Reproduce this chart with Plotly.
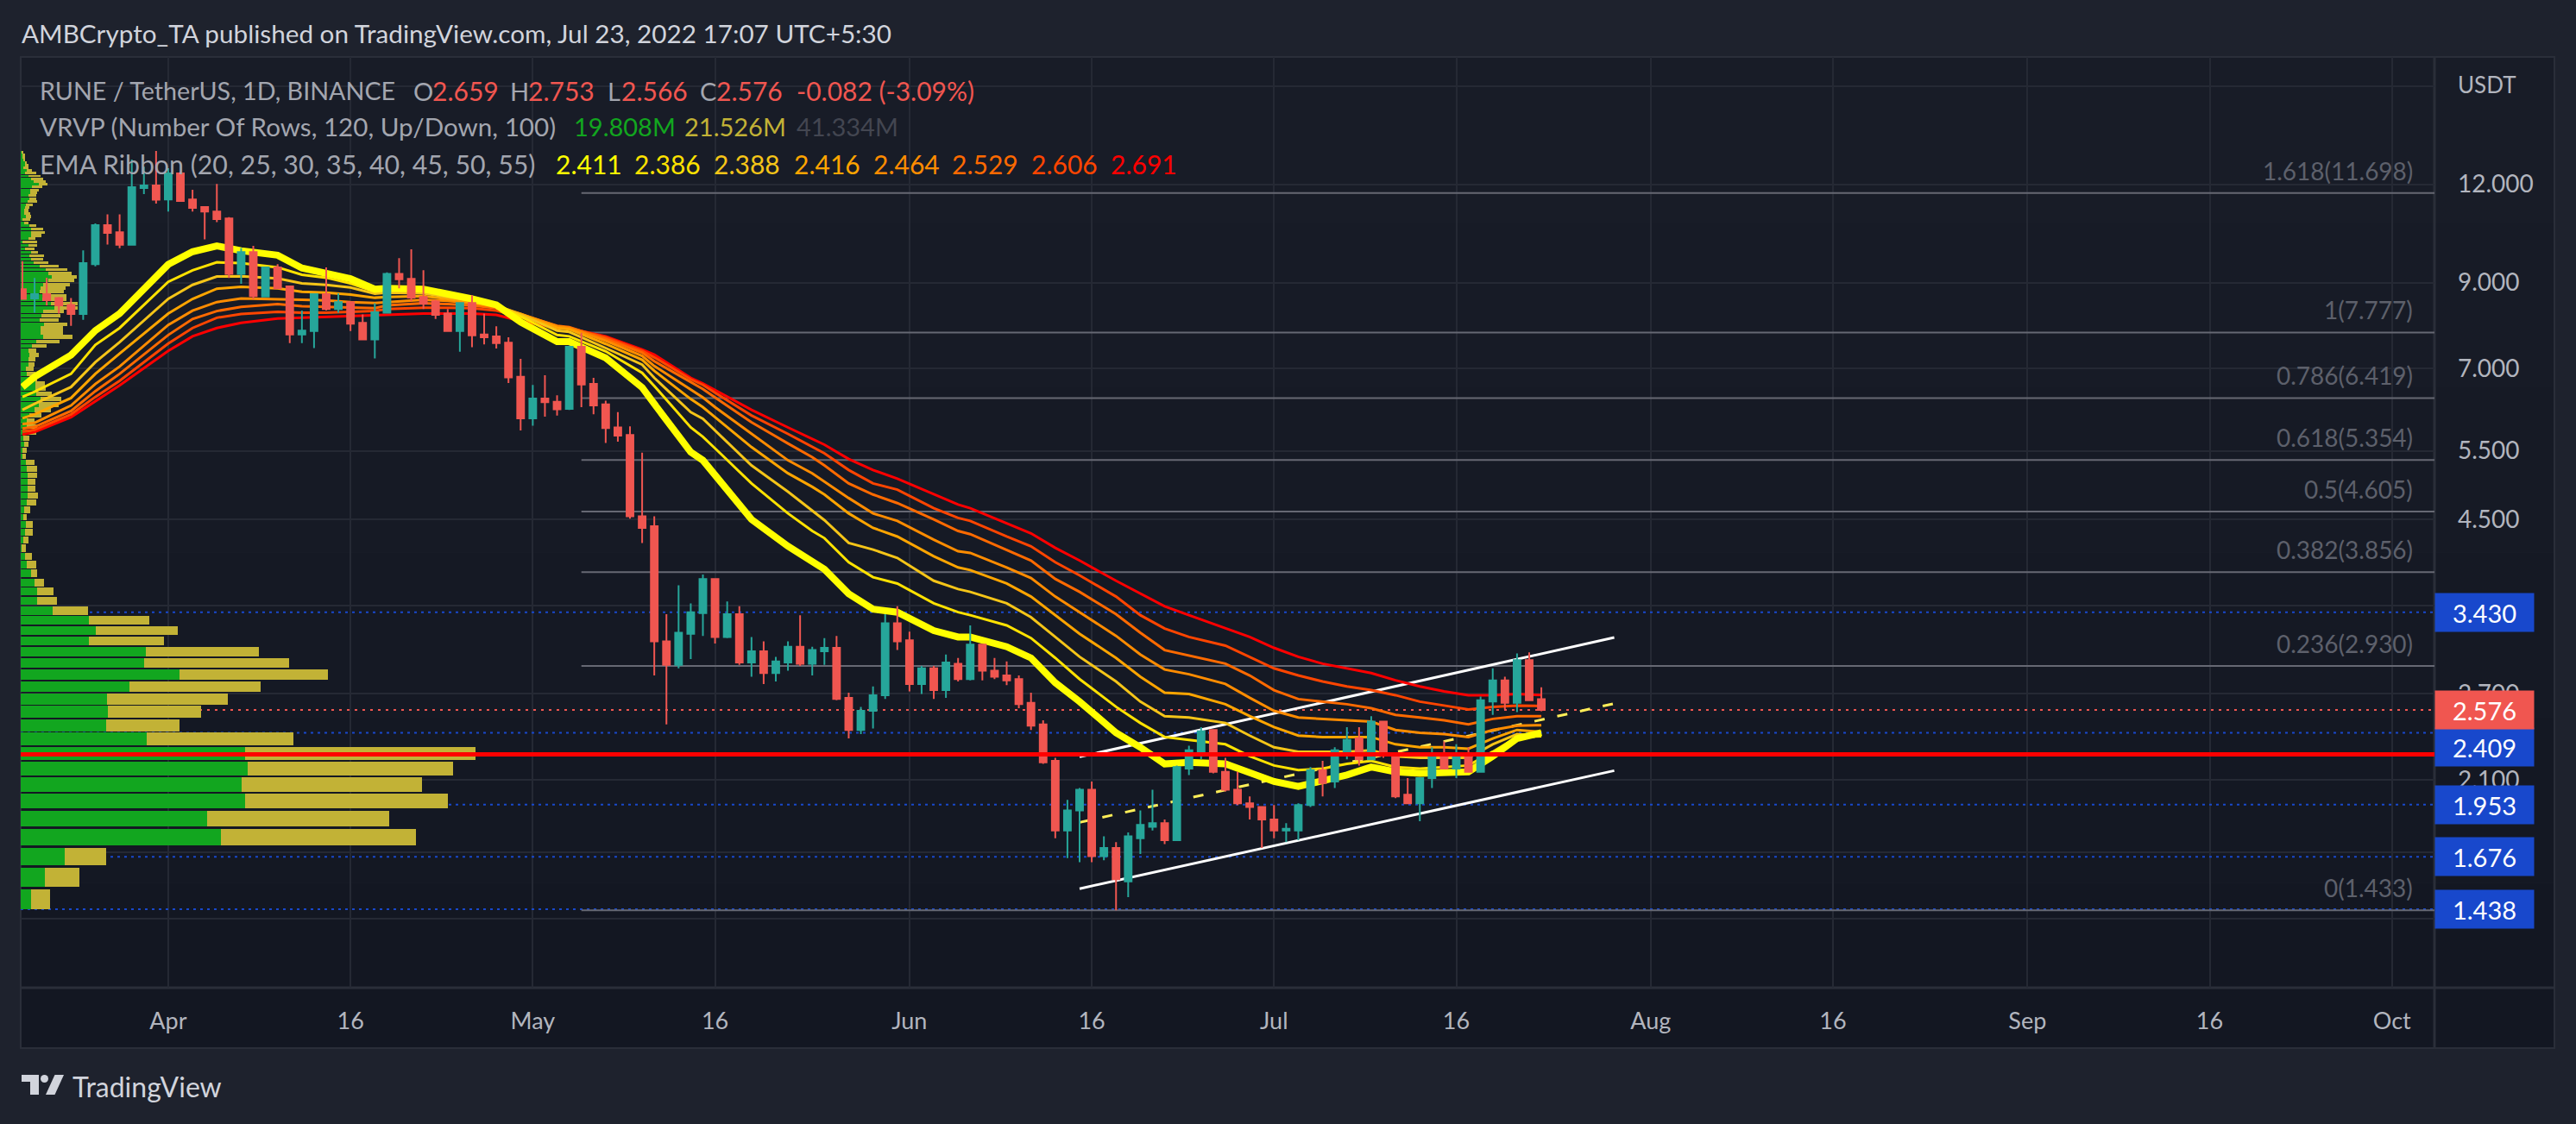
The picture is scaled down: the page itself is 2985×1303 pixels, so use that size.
import numpy as np
import pandas as pd
import plotly.graph_objects as go

FIRST_DAY = "2022-03-20"
opens = [8.83,8.59,8.70,8.60,8.43,8.21,9.50,10.65,10.43,10.05,11.87,11.96,
 11.48,12.39,11.48,11.23,11.08,10.86,9.23,9.84,8.64,9.41,
 8.90,7.73,7.81,8.70,8.33,8.50,8.00,7.62,8.24,9.23,
 9.10,8.63,8.52,8.22,7.81,8.48,7.73,7.69,7.55,6.83,
 6.05,6.41,6.35,6.22,7.46,6.69,6.30,5.89,5.76,4.54,
 4.41,3.15,2.94,3.22,3.42,3.78,3.19,3.41,2.96,3.06,
 2.87,2.96,3.10,2.95,3.06,3.09,2.67,2.43,2.57,2.69,
 3.32,3.16,2.78,2.91,2.73,2.95,2.82,3.12,2.89,2.85,
 2.82,2.63,2.47,2.22,1.81,1.92,2.04,1.68,1.72,1.56,
 1.77,1.83,1.85,1.76,2.17,2.28,2.43,2.15,2.04,1.96,
 1.94,1.87,1.81,1.81,1.95,2.16,2.09,2.28,2.37,2.23,
 2.49,2.27,2.01,1.96,2.11,2.25,2.17,2.27,2.15,2.64,
 2.81,2.63,2.98,2.659]
highs = [9.58,9.12,9.13,8.63,8.60,9.89,10.70,10.99,10.99,12.90,12.63,13.23,
 12.58,12.44,11.81,11.23,12.01,10.90,9.96,10.02,9.43,9.50,
 8.92,8.29,8.70,9.41,8.72,8.52,8.20,8.47,9.27,9.67,
 9.92,9.33,8.56,8.33,8.50,8.67,8.22,7.92,7.67,7.20,
 6.67,6.86,6.47,7.48,7.77,6.81,6.37,6.16,5.91,5.47,
 4.54,3.41,3.71,3.52,3.83,3.78,3.54,3.49,3.19,3.15,
 3.01,3.15,3.40,3.10,3.18,3.20,2.71,2.60,2.76,3.41,
 3.49,3.24,2.93,2.93,3.03,3.00,3.30,3.12,3.00,2.97,
 2.85,2.71,2.50,2.24,1.98,2.05,2.09,1.78,1.75,1.80,
 1.92,2.04,1.87,2.19,2.32,2.45,2.43,2.24,2.15,2.00,
 1.94,1.95,1.85,1.96,2.18,2.22,2.31,2.45,2.45,2.53,
 2.49,2.27,2.11,2.11,2.31,2.35,2.33,2.31,2.68,2.91,
 2.84,3.04,3.05,2.753]
lows = [8.58,8.24,8.42,8.22,7.93,8.07,9.44,10.06,9.95,10.05,11.66,11.34,
 11.08,11.42,11.08,10.21,10.74,9.12,8.97,8.58,8.63,8.83,
 7.54,7.54,7.43,8.29,8.24,7.81,7.62,7.21,8.24,8.85,
 8.52,8.33,8.09,7.81,7.35,7.45,7.51,7.42,6.71,5.84,
 5.92,6.08,6.10,6.20,6.25,6.12,5.63,5.65,4.51,4.20,
 2.85,2.47,2.91,2.99,3.20,3.13,3.18,2.94,2.84,2.78,
 2.80,2.89,2.93,2.85,2.94,2.65,2.37,2.40,2.44,2.66,
 3.07,2.72,2.70,2.66,2.67,2.80,2.81,2.81,2.82,2.77,
 2.59,2.43,2.20,1.77,1.67,1.65,1.65,1.66,1.433,1.49,
 1.69,1.81,1.74,1.76,2.13,2.23,2.14,2.03,1.95,1.87,
 1.72,1.77,1.75,1.76,1.94,2.00,2.05,2.23,2.19,2.23,
 2.24,1.99,1.96,1.86,2.05,2.17,2.11,2.15,2.15,2.54,
 2.58,2.56,2.65,2.566]
closes = [8.58,8.70,8.55,8.42,8.21,9.53,10.65,10.41,10.05,11.90,11.96,11.47,
 12.39,11.43,11.20,11.08,10.84,9.23,9.84,8.65,9.41,8.85,
 7.73,7.82,8.70,8.33,8.50,7.98,7.62,8.25,9.23,9.09,
 8.61,8.46,8.19,7.81,8.48,7.71,7.67,7.54,6.82,6.05,
 6.41,6.34,6.21,7.46,6.68,6.28,5.88,5.75,4.54,4.39,
 3.15,2.94,3.23,3.43,3.78,3.19,3.41,2.96,3.06,2.87,
 2.97,3.10,2.95,3.07,3.09,2.66,2.43,2.57,2.69,3.32,
 3.15,2.78,2.91,2.73,2.96,2.82,3.12,2.89,2.84,2.81,
 2.62,2.46,2.21,1.81,1.92,2.04,1.68,1.72,1.57,1.78,
 1.84,1.85,1.76,2.18,2.29,2.42,2.15,2.04,1.96,1.94,
 1.87,1.81,1.82,1.95,2.16,2.08,2.29,2.36,2.23,2.49,
 2.27,2.00,1.96,2.11,2.25,2.17,2.27,2.15,2.65,2.81,
 2.63,2.98,2.65,2.576]

ribbon_days = [-12,-11,-8,-6,-4,0,2,4,6,9,11,13,15,17,18,21,23,25,27,29,32,33,
 36,39,40,43,44,45,48,51,53,54,56,58,60,63,65,66,69,71,73,
 75,78,80,82,84,87,89,91,93,95,97,99,101,103,105,107,109,111,113]
ema20 = [6.63,6.83,7.28,7.82,8.22,9.49,9.85,10.02,9.88,9.75,9.39,9.25,9.10,8.83,8.85,8.83,8.71,8.58,8.43,8.02,7.57,7.57,
 7.22,6.62,6.31,5.48,5.35,5.12,4.50,4.16,3.97,3.89,3.62,3.46,3.43,3.25,3.19,3.19,3.10,3.00,2.79,
 2.64,2.41,2.31,2.20,2.21,2.20,2.15,2.09,2.06,2.09,2.13,2.18,2.15,2.14,2.15,2.15,2.25,2.37,2.411]
ema25 = [6.44,6.54,6.89,7.50,7.88,9.02,9.33,9.55,9.53,9.41,9.21,9.13,8.98,8.76,8.81,8.78,8.69,8.56,8.42,8.15,7.72,7.69,
 7.36,6.91,6.65,5.89,5.73,5.54,5.00,4.58,4.35,4.26,3.97,3.80,3.73,3.52,3.43,3.40,3.30,3.18,3.00,
 2.82,2.60,2.48,2.38,2.36,2.33,2.25,2.19,2.16,2.17,2.20,2.22,2.18,2.17,2.18,2.19,2.28,2.38,2.386]
ema30 = [6.20,6.31,6.63,7.13,7.56,8.58,8.94,9.16,9.17,9.11,8.98,8.94,8.87,8.71,8.74,8.72,8.63,8.54,8.42,8.19,7.82,7.79,
 7.43,7.08,6.81,6.16,6.04,5.84,5.27,4.88,4.61,4.49,4.20,4.12,4.02,3.76,3.67,3.64,3.52,3.38,3.19,
 3.01,2.80,2.64,2.53,2.52,2.48,2.39,2.31,2.28,2.28,2.28,2.29,2.25,2.24,2.24,2.24,2.33,2.40,2.388]
ema35 = [6.05,6.12,6.42,6.89,7.31,8.22,8.58,8.84,8.89,8.85,8.76,8.74,8.69,8.61,8.63,8.65,8.58,8.50,8.41,8.21,7.88,7.85,
 7.52,7.18,6.95,6.40,6.25,6.07,5.56,5.15,4.95,4.84,4.58,4.39,4.28,4.04,3.91,3.88,3.73,3.59,3.40,
 3.22,3.00,2.84,2.71,2.70,2.62,2.53,2.45,2.39,2.38,2.38,2.38,2.33,2.31,2.31,2.30,2.37,2.43,2.416]
ema40 = [5.95,5.97,6.28,6.69,7.04,7.95,8.29,8.50,8.59,8.58,8.56,8.54,8.50,8.48,8.50,8.56,8.53,8.47,8.38,8.21,7.92,7.88,
 7.59,7.26,7.05,6.59,6.43,6.25,5.78,5.35,5.15,5.03,4.79,4.58,4.48,4.24,4.10,4.08,3.91,3.79,3.59,
 3.43,3.20,3.03,2.90,2.86,2.78,2.67,2.57,2.52,2.51,2.50,2.49,2.43,2.41,2.40,2.38,2.43,2.46,2.464]
ema45 = [5.87,5.90,6.18,6.55,6.89,7.72,8.09,8.28,8.38,8.45,8.40,8.38,8.36,8.35,8.42,8.47,8.45,8.42,8.35,8.20,7.93,7.90,
 7.63,7.33,7.15,6.72,6.59,6.43,5.98,5.62,5.40,5.27,5.00,4.84,4.72,4.50,4.35,4.31,4.12,3.99,3.78,
 3.64,3.41,3.23,3.07,3.02,2.95,2.85,2.73,2.66,2.64,2.62,2.59,2.54,2.52,2.50,2.47,2.51,2.53,2.529]
ema50 = [5.82,5.85,6.12,6.44,6.75,7.53,7.88,8.12,8.21,8.26,8.24,8.24,8.26,8.28,8.33,8.36,8.36,8.35,8.29,8.14,7.92,7.88,
 7.67,7.37,7.23,6.78,6.67,6.52,6.10,5.78,5.56,5.46,5.20,5.00,4.91,4.65,4.52,4.48,4.28,4.16,3.97,
 3.82,3.59,3.40,3.27,3.19,3.11,3.01,2.91,2.85,2.80,2.76,2.73,2.69,2.64,2.61,2.58,2.60,2.61,2.606]
ema55 = [5.77,5.81,6.07,6.36,6.66,7.37,7.69,7.88,8.00,8.10,8.12,8.13,8.15,8.17,8.19,8.22,8.22,8.22,8.19,8.04,7.88,7.87,
 7.69,7.40,7.29,6.81,6.70,6.57,6.20,5.89,5.70,5.60,5.37,5.20,5.07,4.84,4.70,4.65,4.45,4.32,4.14,
 3.99,3.76,3.62,3.49,3.40,3.27,3.19,3.09,3.01,2.95,2.91,2.87,2.81,2.76,2.72,2.69,2.69,2.70,2.691]
ribbon_series = [ema20, ema25, ema30, ema35, ema40, ema45, ema50, ema55]
ribbon_colors = ["#ffff00","#ffe200","#f5c518","#ffa500","#ff8c00","#ff6a00","#ff4500","#ff0000"]
ribbon_widths = [8,3,3,3,3,3,3,3]

vp_low = 1.433
vp_step = 0.0983
vp_up = [11.5,27.8,50.7,231.6,216.3,260.3,255.5,263.2,260.3,146.4,98.6,100.5,99.5,126.3,183.7,142.6,144.5,79.4,87.1,78.5,
 37.3,19.1,19.1,16.3,12.4,7.3,4.7,1.3,2.7,4.7,5.7,2.7,3.7,6.7,7.7,7.7,7.7,7.7,6.7,5.7,
 1.7,1.7,3.7,2.7,7.7,6.7,6.7,9.7,15.7,20.7,22.7,17.7,16.7,16.7,10.7,6.7,5.7,8.7,8.7,9.7,
 8.7,12.7,17.7,25.7,22.7,22.7,26.7,21.7,23.7,25.7,38.7,34.7,24.7,25.7,21.7,22.7,25.7,31.7,35.7,31.7,
 28.7,21.7,14.7,11.7,9.7,11.7,4.7,8.7,1.7,8.7,11.7,11.7,11.7,9.7,3.7,1.7,5.7,3.7,3.7,4.7,
 5.7,7.7,9.7,8.7,10.7,10.7,12.7,20.7,14.7,11.7,8.7,4.7,6.7,2.7,4.7,4.7,2.7,1.7,1.7,1.2]
vp_down = [22.9,40.1,47.9,226.8,210.5,234.4,209.5,237.3,267.0,169.4,85.1,108.1,140.7,151.2,172.3,168.4,131.1,86.2,94.7,70.8,
 40.2,23.0,19.2,10.5,6.7,10.4,8,4.3,6,9,8,4,7,11,12,9,9,11,12,10,
 4,5,5,7,10,12,9,14,19,23,24,18,12,11,8,10,9,7,8,11,
 9,17,27,34,26,26,27,22,22,24,27,31,28,27,28,29,31,30,29,27,
 25,22,17,14,17,8,11,10,17,8,12,16,14,8,5,9,6,7,5,5,
 8,11,8,9,8,10,12,10,14,14,14,13,6,6,4,2,2,3,3,2]

fib_levels = [11.698,7.777,6.419,5.354,4.605,3.856,2.930,1.433]
fib_labels = ["1.618(11.698)","1(7.777)","0.786(6.419)","0.618(5.354)","0.5(4.605)","0.382(3.856)","0.236(2.930)","0(1.433)"]
blue_levels = [3.430,2.409,1.953,1.676,1.438]
last_close = 2.576
support_level = 2.262
channel_dates = ["2022-06-15","2022-07-29"]
channel_upper = [2.246,3.185]
channel_mid = [1.854,2.625]
channel_lower = [1.527,2.157]

y_ticks = [16,12,9,7,5.5,4.5,3.5,2.7,2.1,1.7,1.4]
y_labels = ["","12.000","9.000","7.000","5.500","4.500","","2.700","2.100","",""]
x_ticks = ["2022-04-01","2022-04-16","2022-05-01","2022-05-16","2022-06-01","2022-06-16","2022-07-01","2022-07-16",
           "2022-08-01","2022-08-16","2022-09-01","2022-09-16","2022-10-01"]
x_labels = ["Apr","16","May","16","Jun","16","Jul","16","Aug","16","Sep","16","Oct"]

W, H = 2985, 1303
L, R, T, B = 24, 2821, 66, 1145
X_START, X_END = "2022-03-19 20:38", "2022-10-04 12:00"
FONT = "Lato"
TEAL, RED = "#26a69a", "#f05650"
GREEN, GOLD = "#12a61f", "#c2b236"
BLUE = "#1848cc"
GRID = "#252934"
BORDER = "#2a2e39"
TXT = "#b2b5be"

def px(x, y):
    return (x - L) / (R - L), (B - y) / (B - T)

dates = pd.date_range(FIRST_DAY, periods=len(closes), freq="D")
rib_dates = [pd.Timestamp("2022-04-01") + pd.Timedelta(days=d) for d in ribbon_days]

fig = go.Figure()
for lv in blue_levels:
    fig.add_trace(go.Scatter(x=[X_START, X_END], y=[lv, lv], mode="lines", xaxis="x", yaxis="y",
                             line=dict(color=BLUE, width=2, dash="3px,5px"), showlegend=False))
fig.add_trace(go.Scatter(x=[X_START, X_END], y=[last_close, last_close], mode="lines", xaxis="x", yaxis="y",
                         line=dict(color=RED, width=2, dash="3px,6px"), showlegend=False))
for lv in fib_levels:
    fig.add_trace(go.Scatter(x=["2022-05-05", X_END], y=[lv, lv], mode="lines", xaxis="x", yaxis="y",
                             line=dict(color="#666873", width=2), showlegend=False))
vp_centers = [vp_low + vp_step * (i + 0.5) for i in range(len(vp_up))]
fig.add_trace(go.Bar(y=vp_centers, x=vp_up, orientation="h", width=vp_step * 0.88, base=0, xaxis="x2", yaxis="y",
                     marker=dict(color=GREEN, line=dict(width=0)), showlegend=False))
fig.add_trace(go.Bar(y=vp_centers, x=vp_down, orientation="h", width=vp_step * 0.88, base=vp_up, xaxis="x2", yaxis="y",
                     marker=dict(color=GOLD, line=dict(width=0)), showlegend=False))
for vals, dash, col in [(channel_upper, "solid", "#ffffff"), (channel_lower, "solid", "#ffffff"),
                        (channel_mid, "12px,15px", "#ffee58")]:
    fig.add_trace(go.Scatter(x=channel_dates, y=vals, mode="lines", xaxis="x3", yaxis="y",
                             line=dict(color=col, width=3, dash=dash), showlegend=False))
for vals, col, wd in reversed(list(zip(ribbon_series, ribbon_colors, ribbon_widths))):
    fig.add_trace(go.Scatter(x=rib_dates, y=vals, mode="lines", xaxis="x3", yaxis="y",
                             line=dict(color=col, width=wd), showlegend=False))
fig.add_trace(go.Candlestick(x=dates, open=opens, high=highs, low=lows, close=closes, xaxis="x4", yaxis="y",
                             increasing=dict(line=dict(color=TEAL, width=2), fillcolor=TEAL),
                             decreasing=dict(line=dict(color=RED, width=2), fillcolor=RED),
                             whiskerwidth=0, showlegend=False))
fig.add_trace(go.Scatter(x=[X_START, X_END], y=[support_level, support_level], mode="lines", xaxis="x4", yaxis="y",
                         line=dict(color="#ff0000", width=5), showlegend=False))

ann = []
def text(x, y, s, color=TXT, size=28, anchor="left", **kw):
    fx, fy = px(x, y)
    ann.append(dict(x=fx, y=fy, xref="paper", yref="paper", text=s, showarrow=False, xanchor=anchor, yanchor="middle",
                    font=dict(family=FONT, size=size, color=color), borderpad=0, **kw))

text(24, 38, "AMBCrypto_TA published on TradingView.com, Jul 23, 2022 17:07 UTC+5:30", "#d1d4dc", 29.7)
HDR = "#a3a6af"
text(45, 105, "RUNE / TetherUS, 1D, BINANCE", HDR, 28.7)
for x, s in [(478, "O"), (590, "H"), (703, "L"), (810, "C")]:
    text(x, 105, s, HDR, 29)
for x, s in [(499.5, "2.659"), (611, "2.753"), (719, "2.566"), (829, "2.576"), (921.5, "-0.082 (-3.09%)")]:
    text(x, 105, s, RED, 30)
text(45, 147, "VRVP (Number Of Rows, 120, Up/Down, 100)", HDR, 29.6)
text(664, 147, "19.808M", GREEN, 29)
text(792, 147, "21.526M", GOLD, 29)
text(921.5, 147, "41.334M", "#434651", 29)
text(45, 190, "EMA Ribbon (20, 25, 30, 35, 40, 45, 50, 55)", HDR, 30.3)
for x, s, c in zip([643, 734, 826, 919, 1010.5, 1102, 1194, 1286],
                   ["2.411","2.386","2.388","2.416","2.464","2.529","2.606","2.691"], ribbon_colors):
    text(x, 190, s, c, 30)
text(2847, 98, "USDT", TXT, 26)
text(83, 1259, "TradingView", "#d1d4dc", 32)

for lv, lab in zip(fib_levels, fib_labels):
    fx, _ = px(2798, 0)
    ann.append(dict(x=fx, y=float(np.log10(lv)), xref="paper", yref="y", text=lab, showarrow=False, xanchor="right",
                    yanchor="middle", yshift=26, font=dict(family=FONT, size=28, color="#5d606b")))

tags = [(3.430, "3.430", BLUE, 0), (2.409, "2.409", BLUE, -16), (1.953, "1.953", BLUE, 0), (1.676, "1.676", BLUE, 0),
        (1.438, "1.438", BLUE, 0), (2.576, "2.576", RED, 0)]
for v, s, c, sh in tags:
    ann.append(dict(x=1.0, y=float(np.log10(v)), xref="paper", yref="y", text=s, showarrow=False, xanchor="left",
                    yanchor="middle", yshift=sh, width=114, height=44, bgcolor=c, align="center", borderpad=0,
                    font=dict(family=FONT, size=29, color="#ffffff")))

shapes = []
x0, y0 = px(24, 66)
x1, y1 = px(2960, 1215)
x_sep, _ = px(2821, 0)
_, y_sep = px(0, 1145)
bands = ["#181c27", "#171b26", "#161a25", "#151924", "#141823", "#131722"]
for i, c in enumerate(bands):
    ya = y0 + (y1 - y0) * i / len(bands)
    yb = y0 + (y1 - y0) * (i + 1) / len(bands)
    shapes.append(dict(type="rect", xref="paper", yref="paper", x0=x0, x1=x1, y0=ya, y1=yb, layer="below",
                       fillcolor=c, line=dict(width=0)))
shapes.append(dict(type="rect", xref="paper", yref="paper", x0=x0, x1=x1, y0=y0, y1=y1, layer="below",
                   fillcolor="rgba(0,0,0,0)", line=dict(color=BORDER, width=2)))
shapes.append(dict(type="line", xref="paper", yref="paper", x0=x_sep, x1=x_sep, y0=y0, y1=y1, layer="below",
                   line=dict(color=BORDER, width=3)))
shapes.append(dict(type="line", xref="paper", yref="paper", x0=x0, x1=x1, y0=y_sep, y1=y_sep, layer="below",
                   line=dict(color=BORDER, width=3)))

def poly(points, color):
    parts = []
    for i, (a, b) in enumerate(points):
        fx, fy = px(a, b)
        parts.append(("M" if i == 0 else "L") + f"{fx:.6f},{fy:.6f}")
    shapes.append(dict(type="path", xref="paper", yref="paper", path=" ".join(parts) + " Z",
                       fillcolor=color, line=dict(width=0)))
LOGO = "#d1d4dc"
poly([(25, 1246), (45, 1246), (45, 1269), (35, 1269), (35, 1254), (25, 1254)], LOGO)
poly([(74, 1246), (63.5, 1269), (53, 1269), (63.5, 1246)], LOGO)
cx0, cy0 = px(47, 1246)
cx1, cy1 = px(56, 1255)
shapes.append(dict(type="circle", xref="paper", yref="paper", x0=cx0, x1=cx1, y0=cy1, y1=cy0, fillcolor=LOGO, line=dict(width=0)))

y_range = [np.log10(1.1428), np.log10(17.42)]
hidden_x = dict(type="date", range=[X_START, X_END], overlaying="x", visible=False, anchor="y")
fig.update_layout(
    width=W, height=H, autosize=False,
    margin=dict(l=L, r=W - R, t=T, b=H - B, pad=0),
    paper_bgcolor="#1e222d", plot_bgcolor="rgba(0,0,0,0)",
    showlegend=False, barmode="overlay", boxgap=0.2, bargap=0,
    font=dict(family=FONT, color=TXT),
    xaxis=dict(type="date", range=[X_START, X_END], tickmode="array", tickvals=x_ticks, ticktext=x_labels,
               showgrid=True, gridcolor=GRID, gridwidth=2, zeroline=False, showline=False, ticks="",
               tickfont=dict(family=FONT, size=27, color=TXT), ticklabelstandoff=20, rangeslider=dict(visible=False),
               tickangle=0),
    xaxis2=dict(type="linear", range=[0, R - L], overlaying="x", visible=False, anchor="y"),
    xaxis3=hidden_x,
    xaxis4=dict(**hidden_x, rangeslider=dict(visible=False)),
    yaxis=dict(type="log", range=y_range, side="right", tickmode="array", tickvals=y_ticks, ticktext=y_labels,
               showgrid=True, gridcolor=GRID, gridwidth=2, zeroline=False, showline=False, ticks="",
               tickfont=dict(family=FONT, size=28, color=TXT), ticklabelstandoff=26),
    annotations=ann, shapes=shapes,
)
fig.write_html("out.html", config=dict(displayModeBar=False),
               post_script="document.body.style.margin='0';document.body.style.background='#1e222d';document.body.style.overflow='hidden';")
